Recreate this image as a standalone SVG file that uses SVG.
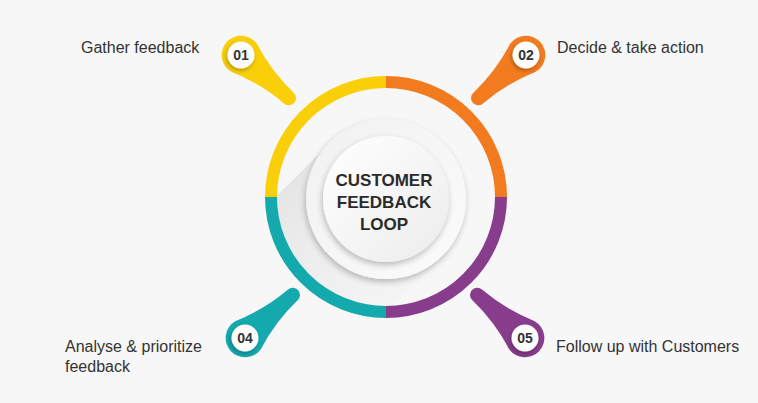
<svg xmlns="http://www.w3.org/2000/svg" width="758" height="403" viewBox="0 0 758 403">
<defs>
<style>
.lbl{font-family:"Liberation Sans",Arial,sans-serif;font-size:16px;fill:#333}
.num{font-family:"Liberation Sans",Arial,sans-serif;font-size:14px;font-weight:bold;fill:#333;text-anchor:middle}
.ctr{font-family:"Liberation Sans",Arial,sans-serif;font-size:17px;font-weight:bold;fill:#2b2b2b;text-anchor:middle}
.seg{fill:none;stroke-width:12}
</style>
<path id="pin" d="M 4 -19 Q 34 -8 64.33 -7.2 A 7.2 7.2 0 0 1 64.33 7.2 Q 34 8 4 19 A 19.4 19.4 0 1 1 4 -19 Z"/>
<clipPath id="inner"><circle cx="386" cy="197" r="109"/></clipPath>
<linearGradient id="shg" x1="0" y1="0" x2="1" y2="1" gradientUnits="objectBoundingBox">
<stop offset="0" stop-color="#d9d9d9" stop-opacity="1"/>
<stop offset="1" stop-color="#f2f2f2" stop-opacity="0"/>
</linearGradient>
<linearGradient id="discg" x1="0" y1="0" x2="1" y2="1">
<stop offset="0" stop-color="#ffffff"/>
<stop offset="1" stop-color="#ececec"/>
</linearGradient>
<linearGradient id="disc2" x1="0" y1="0" x2="1" y2="1">
<stop offset="0" stop-color="#f1f1f1"/>
<stop offset="1" stop-color="#fbfbfb"/>
</linearGradient>
<filter id="ds" x="-30%" y="-30%" width="160%" height="160%">
<feGaussianBlur in="SourceAlpha" stdDeviation="3"/>
<feOffset dx="-1" dy="3"/>
<feComponentTransfer><feFuncA type="linear" slope="0.25"/></feComponentTransfer>
<feMerge><feMergeNode/><feMergeNode in="SourceGraphic"/></feMerge>
</filter>
<filter id="ds2" x="-30%" y="-30%" width="160%" height="160%">
<feGaussianBlur in="SourceAlpha" stdDeviation="2"/>
<feOffset dx="-1" dy="2"/>
<feComponentTransfer><feFuncA type="linear" slope="0.3"/></feComponentTransfer>
<feMerge><feMergeNode/><feMergeNode in="SourceGraphic"/></feMerge>
</filter>
</defs>
<rect width="758" height="403" fill="#f7f7f7"/>

<g id="hub">
<polygon points="442.6,256.6 329.4,143.4 213.4,259.4 326.6,372.6" fill="url(#shg)" clip-path="url(#inner)"/>
<circle cx="386" cy="199" r="80" fill="url(#disc2)" filter="url(#ds)"/>
<circle cx="386" cy="199" r="63" fill="url(#discg)" filter="url(#ds)"/>
<text class="ctr" x="384" y="186">CUSTOMER</text>
<text class="ctr" x="384" y="208">FEEDBACK</text>
<text class="ctr" x="384" y="230">LOOP</text>
</g>

<g id="ring">
<path class="seg" stroke="#F9CF0A" d="M 271 197 A 115 115 0 0 1 386 82"/>
<path class="seg" stroke="#F37B1F" d="M 386 82 A 115 115 0 0 1 501 197"/>
<path class="seg" stroke="#883D8C" d="M 501 197 A 115 115 0 0 1 386 312"/>
<path class="seg" stroke="#14A9AD" d="M 386 312 A 115 115 0 0 1 271 197"/>
</g>

<g id="step01">
<use href="#pin" fill="#F9CF0A" transform="translate(241,55) rotate(42)"/>
<circle cx="241" cy="55" r="13.5" fill="#fdfdfd" filter="url(#ds2)"/>
<text class="num" x="241" y="60">01</text>
<text class="lbl" x="81" y="53">Gather feedback</text>
</g>

<g id="step02">
<use href="#pin" fill="#F37B1F" transform="translate(526,55) rotate(138)"/>
<circle cx="526" cy="55" r="13.5" fill="#fdfdfd" filter="url(#ds2)"/>
<text class="num" x="526" y="60">02</text>
<text class="lbl" x="557" y="53">Decide &amp; take action</text>
</g>

<g id="step04">
<use href="#pin" fill="#14A9AD" transform="translate(245,338) rotate(-42)"/>
<circle cx="245" cy="338" r="13.5" fill="#fdfdfd" filter="url(#ds2)"/>
<text class="num" x="245" y="343">04</text>
<text class="lbl" x="65" y="352">Analyse &amp; prioritize</text>
<text class="lbl" x="65" y="372">feedback</text>
</g>

<g id="step05">
<use href="#pin" fill="#883D8C" transform="translate(525,338) rotate(-138)"/>
<circle cx="525" cy="338" r="13.5" fill="#fdfdfd" filter="url(#ds2)"/>
<text class="num" x="525" y="343">05</text>
<text class="lbl" x="556" y="352">Follow up with Customers</text>
</g>
</svg>
